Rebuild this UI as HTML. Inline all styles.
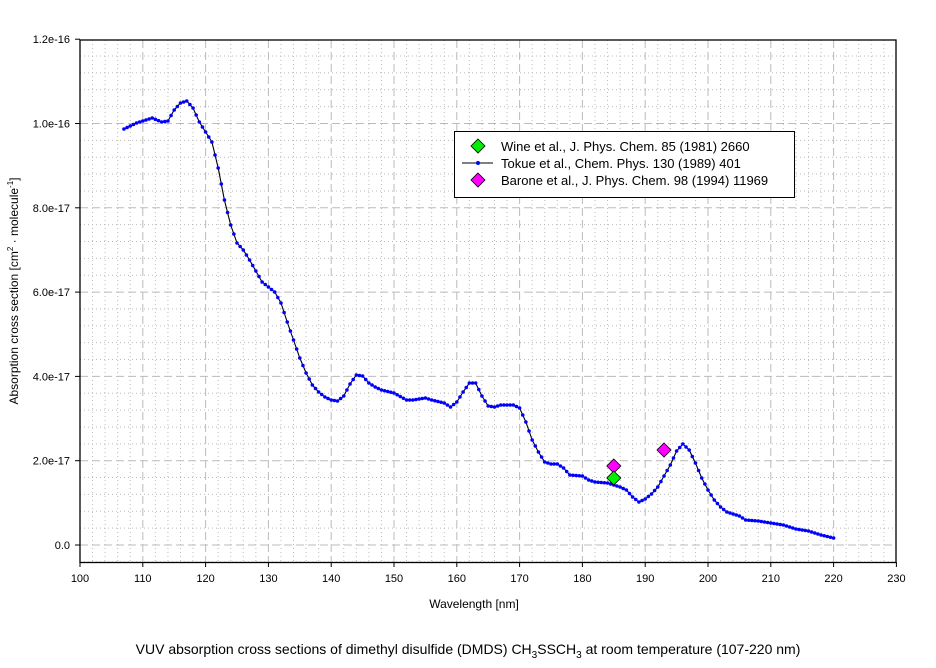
<!DOCTYPE html>
<html><head><meta charset="utf-8"><style>
body{margin:0;background:#fff;}
svg{display:block;font-family:"Liberation Sans",Arial,sans-serif;}
</style></head><body>
<svg id="s" width="936" height="668" xmlns="http://www.w3.org/2000/svg">
<rect width="936" height="668" fill="#fff"/>
<g id="grid"></g>
<g id="curve"></g>
<rect x="80" y="40" width="816" height="522.5" fill="none" stroke="#000" stroke-width="1.3"/>
<g id="ticks" font-size="11" fill="#000"></g>
<text x="474" y="608" font-size="12" text-anchor="middle">Wavelength [nm]</text>
<text transform="translate(18,291) rotate(-90)" font-size="12" text-anchor="middle">Absorption cross section [cm<tspan dy="-5" font-size="8">2</tspan><tspan dy="5"> · molecule</tspan><tspan dy="-5" font-size="8">-1</tspan><tspan dy="5">]</tspan></text>
<text x="468" y="654" font-size="14" text-anchor="middle">VUV absorption cross sections of dimethyl disulfide (DMDS) CH<tspan dy="4" font-size="10">3</tspan><tspan dy="-4">SSCH</tspan><tspan dy="4" font-size="10">3</tspan><tspan dy="-4"> at room temperature (107-220 nm)</tspan></text>
<rect x="454.5" y="131.5" width="340" height="66" fill="#fff" stroke="#000" stroke-width="1"/>
<polygon points="478,139 485,146 478,153 471,146" fill="#00ee00" stroke="#000" stroke-width="0.8"/>
<line x1="462" y1="163" x2="493" y2="163" stroke="#000" stroke-width="1"/>
<circle cx="478" cy="163" r="2" fill="#0000ff"/>
<polygon points="478,173 485,180 478,187 471,180" fill="#ff00ff" stroke="#000" stroke-width="0.8"/>
<g font-size="13">
<text x="501" y="151">Wine et al., J. Phys. Chem. 85 (1981) 2660</text>
<text x="501" y="168">Tokue et al., Chem. Phys. 130 (1989) 401</text>
<text x="501" y="185">Barone et al., J. Phys. Chem. 98 (1994) 11969</text>
</g>
<g id="marks"></g>
</svg>
<script>
var NS="http://www.w3.org/2000/svg";
function X(n){return 80+(n-100)*6.28;}
function el(p,t,a){var e=document.createElementNS(NS,t);for(var k in a)e.setAttribute(k,a[k]);p.appendChild(e);return e;}
var g=document.getElementById('grid');
for(var n=102;n<230;n+=2){if(n%10==0)continue;el(g,'line',{x1:X(n),x2:X(n),y1:40,y2:562,stroke:'#bbb','stroke-dasharray':'1,3','stroke-width':1});}
for(var v=-0.4;v<12;v+=0.4){var r=Math.round(v*10);if(r%20==0)continue;var y=545-v*42.15;el(g,'line',{x1:80,x2:896,y1:y,y2:y,stroke:'#bbb','stroke-dasharray':'1,3','stroke-width':1});}
for(var n=110;n<230;n+=10)el(g,'line',{x1:X(n),x2:X(n),y1:40,y2:562,stroke:'#bbb','stroke-dasharray':'8,4','stroke-width':1});
for(var i=0;i<6;i++){var y=545-i*84.3;el(g,'line',{x1:80,x2:896,y1:y,y2:y,stroke:'#bbb','stroke-dasharray':'8,4','stroke-width':1});}
var t=document.getElementById('ticks');
for(var n=100;n<=230;n+=10){el(t,'line',{x1:X(n),x2:X(n),y1:562,y2:567,stroke:'#000'});var tx=el(t,'text',{x:X(n),y:582,'text-anchor':'middle'});tx.textContent=n;}
var labs=['0.0','2.0e-17','4.0e-17','6.0e-17','8.0e-17','1.0e-16','1.2e-16'];
for(var i=0;i<7;i++){var y=545-i*84.3;el(t,'line',{x1:75,x2:80,y1:y,y2:y,stroke:'#000'});var tx=el(t,'text',{x:70,y:y+4,'text-anchor':'end'});tx.textContent=labs[i];}
var d=[[107,129],[108,126],[109,123],[110,121],[111.5,118],[113,122],[114,121],[115,110],[116,103],[117,101],[118,108],[119,122],[120,132],[121,142],[122,168],[123,200],[124,225],[125,243],[126,250],[127,260],[128,271],[129,282],[130,287],[131,292],[132,303],[133,322],[134,340],[135,358],[136,373],[137,385],[138,392],[139,397],[140,400],[141,401],[142,396],[143,384],[144,375],[145,376],[146,383],[147,387],[148,390],[150,393],[152,400],[153,400],[155,398],[156,400],[158,403],[159,407],[160,402],[161,392],[162,383],[163,383],[164,396],[165,406],[166,407],[167,405],[169,405],[170,408],[171,422],[172,440],[173,452],[174,462],[175,464],[176,464],[177,468],[178,475],[180,476],[181,480],[182,482],[184,483],[186,487],[187,490],[188,497],[189,502],[190,499],[191,494],[192,487],[193,476],[194,465],[195,451],[196,444],[197,450],[198,463],[199,478],[200,490],[201,500],[202,507],[203,512],[205,516],[206,520],[208,521],[210,523],[212,525],[214,529],[216,531],[218,535],[220,538]];
var c=document.getElementById('curve');
var p='';d.forEach(function(q,i){p+=(i?'L':'M')+X(q[0]).toFixed(1)+','+q[1];});
el(c,'path',{d:p,fill:'none',stroke:'#000','stroke-width':1.1});
for(var i=0;i<d.length-1;i++){var a=d[i],b=d[i+1];for(var n=a[0];n<b[0]-0.01;n+=0.5){var f=(n-a[0])/(b[0]-a[0]);el(c,'circle',{cx:X(n),cy:a[1]+(b[1]-a[1])*f,r:1.8,fill:'#0000ff'});}}
el(c,'circle',{cx:X(220),cy:538,r:1.8,fill:'#0000ff'});
var m=document.getElementById('marks');
function dia(n,y,col){var x=X(n);el(m,'polygon',{points:(x)+','+(y-7)+' '+(x+7)+','+y+' '+x+','+(y+7)+' '+(x-7)+','+y,fill:col,stroke:'#000','stroke-width':0.8});}
dia(185,466,'#ff00ff');dia(185,478,'#00ee00');dia(193,450,'#ff00ff');
</script>
</body></html>
